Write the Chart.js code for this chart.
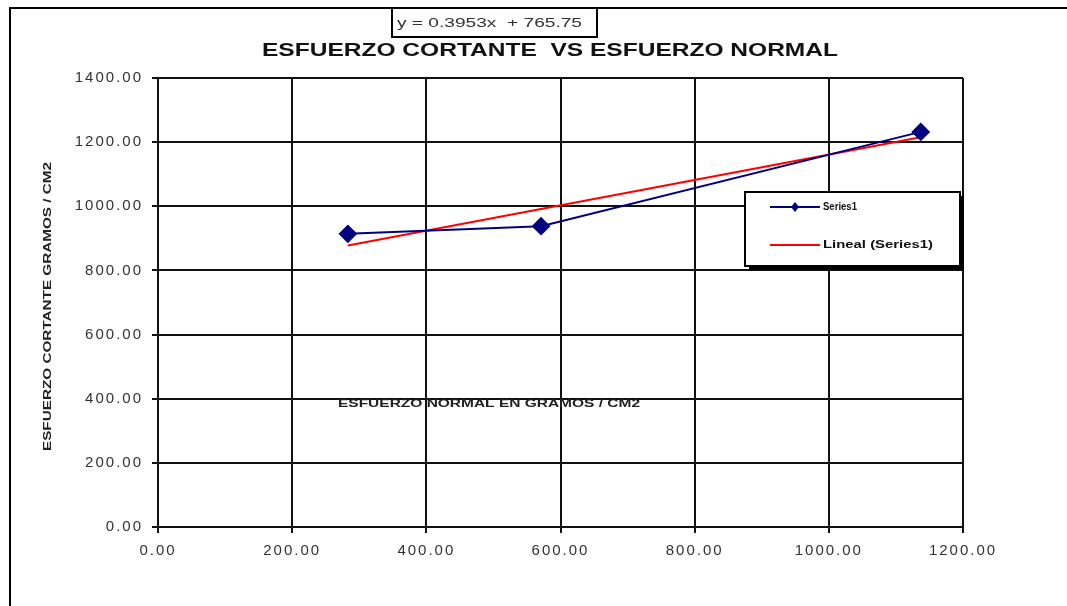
<!DOCTYPE html>
<html>
<head>
<meta charset="utf-8">
<script src="https://cdn.jsdelivr.net/npm/chart.js@4/dist/chart.umd.min.js"></script>
<style>
  html, body { margin: 0; padding: 0; background: #fff; }
  #wrap { width: 1067px; height: 606px; position: relative; }
</style>
</head>
<body>
<div id="wrap"><canvas id="c" width="1067" height="606"></canvas></div>
<script>
// Esfuerzo normal (g/cm2) and esfuerzo cortante (g/cm2) of the three tests
const normalStress = [283, 571, 1137];
const shearStress = [914, 938, 1232];

// Linear trend line: y = slope * x + intercept
const trendSlope = 0.3953;
const trendIntercept = 765.75;

const xTicks = [0, 200, 400, 600, 800, 1000, 1200];
const yTicks = [0, 200, 400, 600, 800, 1000, 1200, 1400];

const chartTitle = 'ESFUERZO CORTANTE  VS ESFUERZO NORMAL';
const xTitle = 'ESFUERZO NORMAL EN GRAMOS / CM2';
const yTitle = 'ESFUERZO CORTANTE GRAMOS / CM2';
const seriesName = 'Series1';
const trendName = 'Lineal (Series1)';

const FONT = '"Liberation Sans", Arial, sans-serif';

const measured = normalStress.map((x, i) => ({ x: x, y: shearStress[i] }));
const trendX = [normalStress[0], normalStress[normalStress.length - 1]];
const trend = trendX.map(x => ({ x: x, y: trendSlope * x + trendIntercept }));

function fitText(ctx, text, x, y, width) {
  const w = ctx.measureText(text).width;
  ctx.save();
  ctx.translate(x, y);
  ctx.scale(width / w, 1);
  ctx.fillText(text, 0, 0);
  ctx.restore();
}

const decor = {
  id: 'decor',
  beforeDraw(chart) {
    const ctx = chart.ctx;
    ctx.save();
    ctx.fillStyle = '#fff';
    ctx.fillRect(0, 0, chart.width, chart.height);
    // outer frame
    ctx.strokeStyle = '#000';
    ctx.lineWidth = 2;
    ctx.strokeRect(10, 8, 1100, 700);
    ctx.restore();
    // wide spacing for the axis tick labels
    ctx.letterSpacing = '2px';
  },
  beforeDatasetsDraw(chart) {
    chart.ctx.letterSpacing = '0px';
  },
  afterDraw(chart) {
    const ctx = chart.ctx;
    ctx.save();
    ctx.letterSpacing = '0px';

    // equation label box
    ctx.fillStyle = '#fff';
    ctx.fillRect(392, 9, 205, 28);
    ctx.strokeStyle = '#000';
    ctx.lineWidth = 2;
    ctx.beginPath();
    ctx.moveTo(392, 8); ctx.lineTo(392, 37); ctx.lineTo(597, 37); ctx.lineTo(597, 8);
    ctx.stroke();
    ctx.fillStyle = '#333';
    ctx.font = '12px ' + FONT;
    ctx.textBaseline = 'middle';
    ctx.textAlign = 'left';
    const eq = 'y = ' + trendSlope.toFixed(4) + 'x  + ' + trendIntercept.toFixed(2);
    fitText(ctx, eq, 397, 24, 185);

    // title
    ctx.fillStyle = '#111';
    ctx.font = 'bold 19px ' + FONT;
    ctx.textBaseline = 'middle';
    fitText(ctx, chartTitle, 262, 51, 576);

    // y axis title (rotated)
    ctx.save();
    ctx.translate(48, 307);
    ctx.rotate(-Math.PI / 2);
    ctx.font = 'bold 10px ' + FONT;
    ctx.fillStyle = '#222';
    ctx.textBaseline = 'middle';
    fitText(ctx, yTitle, -144, 0, 289);
    ctx.restore();

    // x axis title, placed inside the plot
    ctx.font = 'bold 11px ' + FONT;
    ctx.fillStyle = '#222';
    ctx.textBaseline = 'middle';
    fitText(ctx, xTitle, 338, 404, 302);

    // legend with shadow
    const lx = 745, ly = 192, lw = 215, lh = 74;
    ctx.fillStyle = '#000';
    ctx.fillRect(lx + 4, ly + 4, lw, lh);
    ctx.fillStyle = '#fff';
    ctx.fillRect(lx, ly, lw, lh);
    ctx.strokeStyle = '#000';
    ctx.lineWidth = 2;
    ctx.strokeRect(lx, ly, lw, lh);

    ctx.lineWidth = 2;
    ctx.strokeStyle = '#000080';
    ctx.beginPath(); ctx.moveTo(770, 207); ctx.lineTo(820, 207); ctx.stroke();
    ctx.fillStyle = '#000080';
    ctx.beginPath();
    ctx.moveTo(795, 202); ctx.lineTo(799, 207); ctx.lineTo(795, 212); ctx.lineTo(791, 207);
    ctx.closePath(); ctx.fill();
    ctx.strokeStyle = '#ff0000';
    ctx.beginPath(); ctx.moveTo(770, 245); ctx.lineTo(820, 245); ctx.stroke();

    ctx.fillStyle = '#111';
    ctx.font = 'bold 10px ' + FONT;
    ctx.textBaseline = 'middle';
    fitText(ctx, seriesName, 823, 207, 34);
    fitText(ctx, trendName, 823, 245, 110);

    ctx.restore();
  }
};

new Chart(document.getElementById('c'), {
  type: 'scatter',
  data: {
    datasets: [
      {
        label: trendName,
        data: trend,
        showLine: true,
        borderColor: '#ff0000',
        borderWidth: 2,
        pointRadius: 0,
        order: 2
      },
      {
        label: seriesName,
        data: measured,
        showLine: true,
        borderColor: '#000080',
        backgroundColor: '#000080',
        borderWidth: 2,
        pointStyle: 'rectRot',
        pointRadius: 8,
        pointHoverRadius: 8,
        order: 1
      }
    ]
  },
  options: {
    responsive: false,
    animation: false,
    layout: { padding: { top: 78, right: 104, left: 0, bottom: 0 } },
    plugins: {
      legend: { display: false },
      title: { display: false },
      tooltip: { enabled: false }
    },
    scales: {
      x: {
        type: 'linear',
        min: xTicks[0],
        max: xTicks[xTicks.length - 1],
        afterBuildTicks(axis) { axis.ticks = xTicks.map(v => ({ value: v })); },
        afterFit(axis) { axis.height = 79; },
        grid: { color: '#111', lineWidth: 2, tickLength: 6, drawTicks: true },
        border: { color: '#111', width: 2 },
        ticks: {
          color: '#333',
          font: { family: FONT, size: 15 },
          padding: 9,
          maxRotation: 0,
          callback: v => Number(v).toFixed(2)
        }
      },
      y: {
        type: 'linear',
        min: yTicks[0],
        max: yTicks[yTicks.length - 1],
        afterBuildTicks(axis) { axis.ticks = yTicks.map(v => ({ value: v })); },
        afterFit(axis) { axis.width = 158; },
        grid: { color: '#111', lineWidth: 2, tickLength: 6, drawTicks: true },
        border: { color: '#111', width: 2 },
        ticks: {
          color: '#333',
          font: { family: FONT, size: 15 },
          padding: 9,
          callback: v => Number(v).toFixed(2)
        }
      }
    }
  },
  plugins: [decor]
});
</script>
</body>
</html>
